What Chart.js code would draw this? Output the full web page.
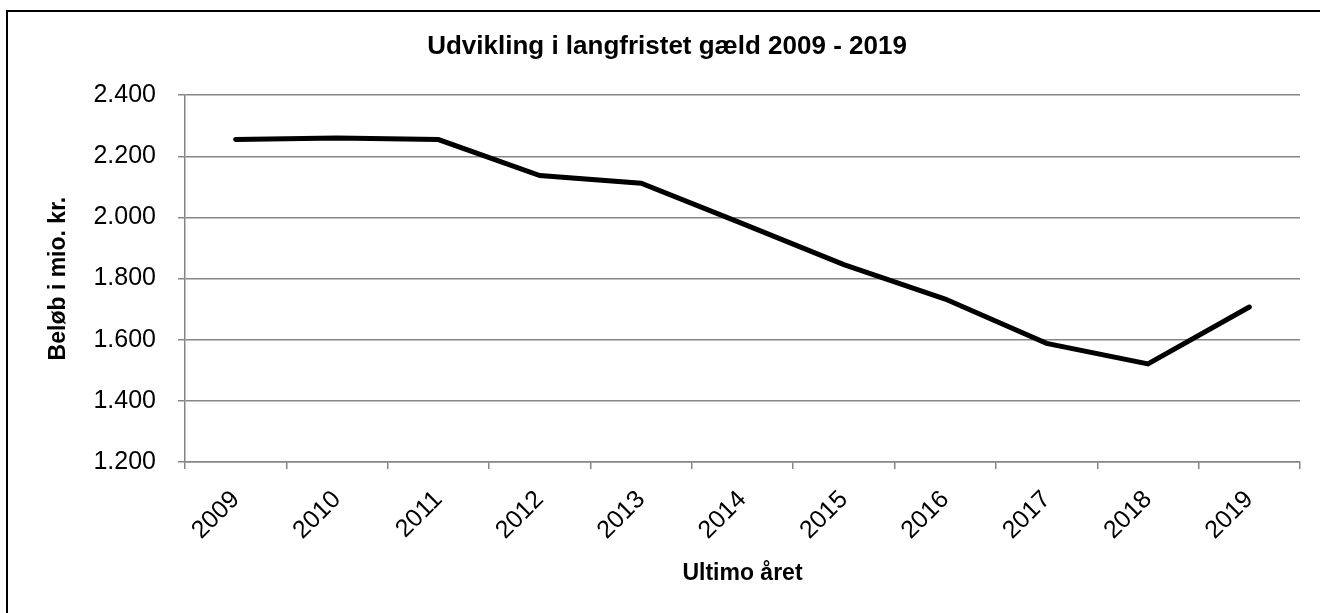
<!DOCTYPE html>
<html>
<head>
<meta charset="utf-8">
<script src="https://cdn.jsdelivr.net/npm/chart.js@4/dist/chart.umd.min.js"></script>
<style>
  html, body { margin: 0; padding: 0; background: #fff; overflow: hidden; }
  #wrap { position: relative; width: 1320px; height: 613px; }
  #frame { position: absolute; left: 6px; top: 10px; width: 1400px; height: 700px;
           border: 2px solid #000; pointer-events: none; }
  canvas { position: absolute; left: 0; top: 0; }
</style>
</head>
<body>
<div id="wrap">
  <canvas id="c" width="1320" height="613"></canvas>
  <div id="frame"></div>
</div>
<script>
const categories = ['2009','2010','2011','2012','2013','2014','2015','2016','2017','2018','2019'];
const values = [2255, 2260, 2255, 2137, 2112, 1980, 1846, 1733, 1588, 1521, 1707];
const yTickValues = [1200, 1400, 1600, 1800, 2000, 2200, 2400];
const titleText = 'Udvikling i langfristet gæld 2009 - 2019';
const yTitleText = 'Beløb i mio. kr.';
const xTitleText = 'Ultimo året';

const gray = '#868686';
const fmt = v => String(v).replace(/\B(?=(\d{3})+(?!\d))/g, '.');

new Chart(document.getElementById('c'), {
  type: 'line',
  data: {
    labels: categories,
    datasets: [{
      data: values,
      borderColor: '#000',
      borderWidth: 5,
      borderCapStyle: 'round',
      borderJoinStyle: 'miter',
      pointRadius: 0,
      tension: 0,
      fill: false
    }]
  },
  options: {
    responsive: false,
    animation: false,
    layout: { padding: { left: 14, right: 0, top: 0, bottom: 0 } },
    plugins: {
      legend: { display: false },
      tooltip: { enabled: false },
      title: {
        display: true,
        text: titleText,
        color: '#000',
        font: { family: 'Liberation Sans', size: 26, weight: 'bold', lineHeight: 1.2 },
        padding: { top: 31, bottom: 33 }
      }
    },
    scales: {
      x: {
        type: 'category',
        offset: true,
        grid: { display: true, drawOnChartArea: false, drawTicks: true, tickLength: 7,
                offset: true, color: gray, lineWidth: 1.5 },
        border: { display: true, color: gray, width: 1.5 },
        ticks: { color: '#000', minRotation: 45, maxRotation: 45, autoSkip: false, padding: 16,
                 font: { family: 'Liberation Sans', size: 25 } },
        title: { display: true, text: xTitleText, color: '#000',
                 font: { family: 'Liberation Sans', size: 23, weight: 'bold', lineHeight: 1.2 },
                 padding: { top: 0, bottom: 26 } },
        afterFit: s => { s.height = 151; }
      },
      y: {
        min: 1200, max: 2400,
        afterBuildTicks: s => { s.ticks = yTickValues.map(v => ({ value: v })); },
        grid: { color: gray, lineWidth: 1.5, drawTicks: true, tickLength: 7 },
        border: { display: true, color: gray, width: 1.5 },
        ticks: { color: '#000', padding: 22, callback: v => fmt(v),
                 font: { family: 'Liberation Sans', size: 25 } },
        title: { display: true, text: yTitleText, color: '#000',
                 font: { family: 'Liberation Sans', size: 23, weight: 'bold', lineHeight: 1.2 },
                 padding: { top: 31, bottom: 0 } },
        afterFit: s => { s.width = 171; }
      },
      yR: {
        position: 'right',
        display: true,
        grid: { display: false },
        border: { display: false },
        ticks: { display: false },
        afterFit: s => { s.width = 20; }
      }
    }
  }
});
</script>
</body>
</html>
